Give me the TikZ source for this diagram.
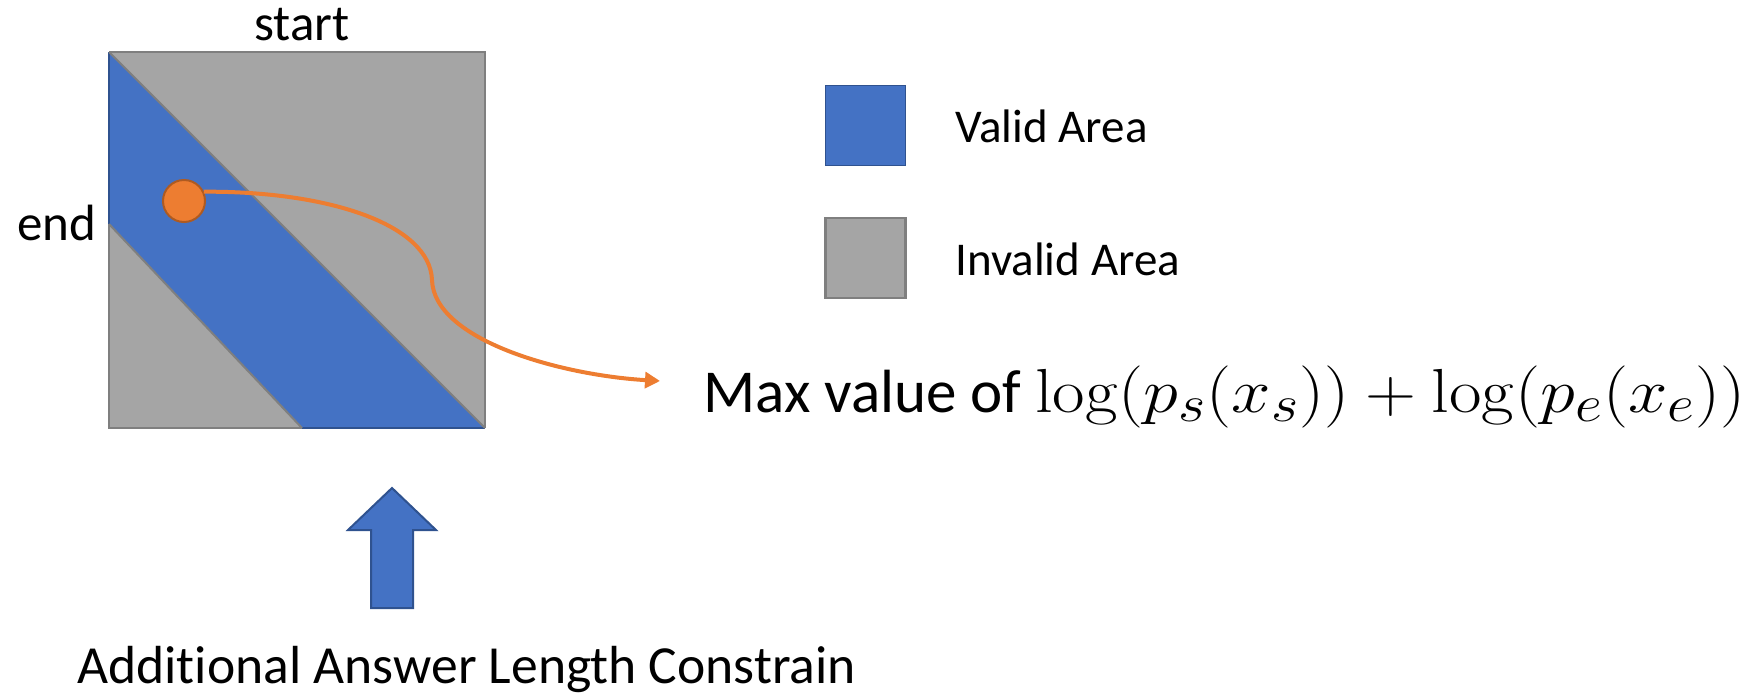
\documentclass[tikz,border=0pt]{standalone}
\usepackage[no-math]{fontspec}
\setmainfont{Carlito}[Ligatures=NoCommon]
\usetikzlibrary{arrows.meta}
\definecolor{vblue}{HTML}{4472C4}
\definecolor{vblueline}{HTML}{2F528F}
\definecolor{igray}{HTML}{A5A5A5}
\definecolor{igrayline}{HTML}{7F7F7F}
\definecolor{dotorange}{HTML}{ED7D31}
\definecolor{dotline}{HTML}{AE5A21}

\begin{document}
\begin{tikzpicture}[x=0.5pt,y=-0.5pt,
  lbl/.style={inner sep=0pt, font=\fontsize{25.5pt}{30pt}\selectfont},
  legtxt/.style={inner sep=0pt, font=\fontsize{23.5pt}{28pt}\selectfont, anchor=base west},
  legbox/.style={draw, minimum size=40pt, inner sep=0pt},
  edgegray/.style={igrayline, line width=1pt},
  edgeblue/.style={vblueline, line width=1pt},
  pathorange/.style={dotorange, line width=2pt, -{Triangle[length=7.5pt,width=8pt]}}]
\useasboundingbox (0,0) rectangle (1752,697);

% start/end score matrix
\fill[igray] (109,52) rectangle (485,428);
\fill[vblue] (109,52) -- (485,428) -- (302,428) -- (109,224) -- cycle;
\draw[edgegray] (109,52) -- (485,52) -- (485,428);
\draw[edgegray] (109,224) -- (109,428) -- (302,428);
\draw[edgeblue] (109,52) -- (109,224) (302,428) -- (485,428);
\draw[edgegray] (109,52) -- (485,428) (109,224) -- (302,428);

\node[lbl, anchor=base] (start) at (302,40) {start};
\node[lbl, anchor=base west] (end) at (17,240) {end};

% best span
\node[circle, fill=dotorange, draw=dotline, line width=1pt, minimum size=21pt, inner sep=0pt] (dot) at (184,201) {};

% legend
\node[legbox, fill=vblue, draw=vblueline] (validbox) at (865.5,125) {};
\node[legbox, fill=igray, draw=igrayline, line width=1.3pt] (invalidbox) at (865.5,258) {};
\node[legtxt] (validtxt) at (955,142) {Valid Area};
\node[legtxt] (invalidtxt) at (955,275) {Invalid Area};

% result: the formula is set at 24.88pt and scaled up
\node[inner sep=0pt, anchor=base west, font=\fontsize{30.5pt}{36pt}\selectfont] (maxval) at (703,412)
  {Max value of \scalebox{1.42}[1.25]{\fontsize{24.88pt}{30pt}\selectfont\(\log(p_s(x_s)) + \log(p_e(x_e))\)}};
\coordinate (tip) at (660,381);
\draw[pathorange] (dot.25) .. controls (330,191) and (430,225) .. (432,280)
  .. controls (434,340) and (560,375) .. (tip);

% length constraint
\draw[fill=vblue, draw=vblueline, line width=1pt]
  (392,488) -- (436,530) -- (413,530) -- (413,608) -- (371,608) -- (371,530) -- (348,530) -- cycle;
\node[inner sep=0pt, anchor=base west, font=\fontsize{26.8pt}{30pt}\selectfont] (constraint) at (77,683) {Additional Answer Length Constrain};
\end{tikzpicture}
\end{document}
